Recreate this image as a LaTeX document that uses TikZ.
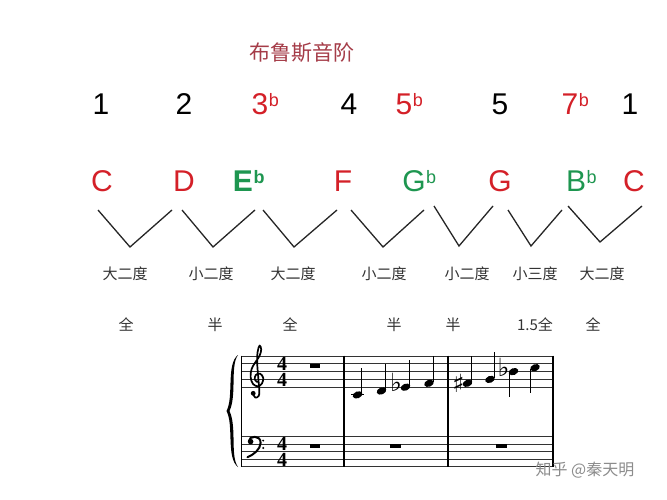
\documentclass[tikz,border=0pt]{standalone}
\usepackage{fontspec}
\setmainfont{Liberation Sans}
\newfontfamily\cjk{Noto Sans CJK SC}
\newfontfamily\musicfont{DejaVu Sans}
\newfontfamily\tsfont{Liberation Serif}
\definecolor{nred}{RGB}{212,32,40}
\definecolor{ngreen}{RGB}{30,150,80}
\definecolor{ttl}{RGB}{165,60,72}
\newcommand\supb{\rlap{\hspace{0.5pt}\raisebox{8.5pt}{\fontsize{18}{18}\selectfont b}}}
\begin{document}
\begin{tikzpicture}[x=1pt,y=-1pt,
  num/.style={font=\fontsize{30}{30}\selectfont, anchor=base, inner sep=0pt},
  lab/.style={font=\cjk\fontsize{15}{15}\selectfont, text=black!80, inner sep=0pt},
  vshape/.style={line width=1.3pt, draw=black!85},
  staffline/.style={line width=0.8pt, draw=black!80},
  barline/.style={line width=1.2pt, draw=black},
  stem/.style={line width=1.1pt, draw=black},
  acc/.style={font=\musicfont\fontsize{25}{25}\selectfont, inner sep=0pt},
  tsig/.style={font=\tsfont\bfseries\fontsize{20}{16}\selectfont, inner sep=0pt, align=center},
  clef/.style={line width=1.7pt, line cap=round, line join=round}
]
\useasboundingbox[fill=white] (0,0) rectangle (667,500);

% title
\node[font=\cjk\fontsize{21}{21}\selectfont, text=ttl, inner sep=0pt] (title) at (302,53) {布鲁斯音阶};

% scale degrees
\node[num] (n1) at (101,115) {1};
\node[num] (n2) at (184,115) {2};
\node[num, text=nred] (n3) at (260,115) {3\supb};
\node[num] (n4) at (349,115) {4};
\node[num, text=nred] (n5b) at (404,115) {5\supb};
\node[num] (n5) at (500,115) {5};
\node[num, text=nred] (n7) at (570,115) {7\supb};
\node[num] (n8) at (630,115) {1};

% note names
\node[num, text=nred] (c1) at (102,192) {C};
\node[num, text=nred] (d) at (184,192) {D};
\node[num, text=ngreen] (eb) at (243,192) {\textbf{E\supb}};
\node[num, text=nred] (f) at (343,192) {F};
\node[num, text=ngreen] (gb) at (414,192) {G\supb};
\node[num, text=nred] (g) at (500,192) {G};
\node[num, text=ngreen] (bb) at (576,192) {B\supb};
\node[num, text=nred] (c2) at (634,192) {C};

% V shapes
\draw[vshape] (98,210) -- (130,247) -- (172,210);
\draw[vshape] (182,210) -- (213,247) -- (255,210);
\draw[vshape] (263,210) -- (294,247) -- (337,210);
\draw[vshape] (351,210) -- (383,247) -- (424,210);
\draw[vshape] (434,206) -- (459,246) -- (493,206);
\draw[vshape] (508,210) -- (531,246) -- (562,210);
\draw[vshape] (568,206) -- (600,242) -- (642,206);

% interval names
\node[lab] (i1) at (125,274) {大二度};
\node[lab] (i2) at (211,274) {小二度};
\node[lab] (i3) at (293,274) {大二度};
\node[lab] (i4) at (384,274) {小二度};
\node[lab] (i5) at (467,274) {小二度};
\node[lab] (i6) at (535,274) {小三度};
\node[lab] (i7) at (602,274) {大二度};

% steps
\node[lab] (s1) at (126,325) {全};
\node[lab] (s2) at (215,325) {半};
\node[lab] (s3) at (290,325) {全};
\node[lab] (s4) at (394,325) {半};
\node[lab] (s5) at (453,325) {半};
\node[lab] (s6) at (535,325) {1.5全};
\node[lab] (s7) at (593,325) {全};

% staves
\foreach \y in {356,363.8,371.6,379.4,387.2}
  \draw[staffline] (241.7,\y) -- (553,\y);
\foreach \y in {436.8,444.3,451.8,459.3,466.8}
  \draw[staffline] (241.7,\y) -- (553,\y);
\foreach \x in {241.7,344,448,553}
  \draw[barline] (\x,355.6) -- (\x,467.2);

% brace
\fill (238,355) .. controls (226,364) and (234,397) .. (226.5,411)
  .. controls (234,425) and (226,458) .. (238,467)
  .. controls (230,456) and (237,427) .. (229.5,411)
  .. controls (237,395) and (230,366) .. (238,355) -- cycle;

% treble clef (drawn)
\draw[clef] plot[smooth, tension=0.6] coordinates {
  (252.8,393.5) (255.3,397.6) (258.6,396) (259.3,391) (258.3,378)
  (257.2,363) (257.6,352) (259.6,345.5) (261.2,349.5) (259.5,356)
  (255.2,362.5) (251.6,369) (250.6,377) (253,384) (258,386.3)
  (262,383.4) (263.2,377.8) (260,373.6) (255.8,375) (254.8,379.4) (257.2,382)};
\fill (253.2,393.3) circle (2.4pt);

% bass clef (drawn)
\fill (250.6,441.6) circle (2.8pt);
\draw[line width=2pt, line cap=round] (248.8,441.4) .. controls (248.5,435.5) and (261,434.5) .. (260.6,443)
  .. controls (260.2,449.5) and (254,454.5) .. (247.5,457.2);
\fill (263.2,440.6) circle (1.1pt);
\fill (263.2,448) circle (1.1pt);

% time signatures
\node[tsig] (tsu) at (282,371.6) {4\\4};
\node[tsig] (tsl) at (282,452) {4\\4};

% whole rests
\fill (310,363.8) rectangle (320,367.8);
\fill (310,444.3) rectangle (320,448.3);
\fill (390,444.3) rectangle (401,448.3);
\fill (496,444.3) rectangle (507,448.3);

% notes
\draw[line width=0.9pt] (351,394.9) -- (364,394.9);
\foreach \x/\y in {357.5/394.9, 381.5/391, 405.5/387.2, 429/383.3, 467.5/383.3, 490/379.4}{
  \fill (\x,\y) ellipse[x radius=5pt, y radius=3.4pt, rotate=22];
  \draw[stem] (\x+4.4,\y-1) -- (\x+4.4,\y-27);
}
\foreach \x/\y in {513.5/371.6, 535/367.7}{
  \fill (\x,\y) ellipse[x radius=5pt, y radius=3.4pt, rotate=22];
  \draw[stem] (\x-4.4,\y+1) -- (\x-4.4,\y+25);
}
% accidentals
\node[acc] (fl1) at (396,382) {♭};
\node[acc] (sh1) at (458.5,383.5) {♯};
\node[acc] (fl2) at (503.5,367) {♭};

% watermark
\node[font=\cjk\fontsize{16}{16}\selectfont, text=black!45, inner sep=0pt] (wm) at (585,470) {知乎 @秦天明};
\end{tikzpicture}
\end{document}
